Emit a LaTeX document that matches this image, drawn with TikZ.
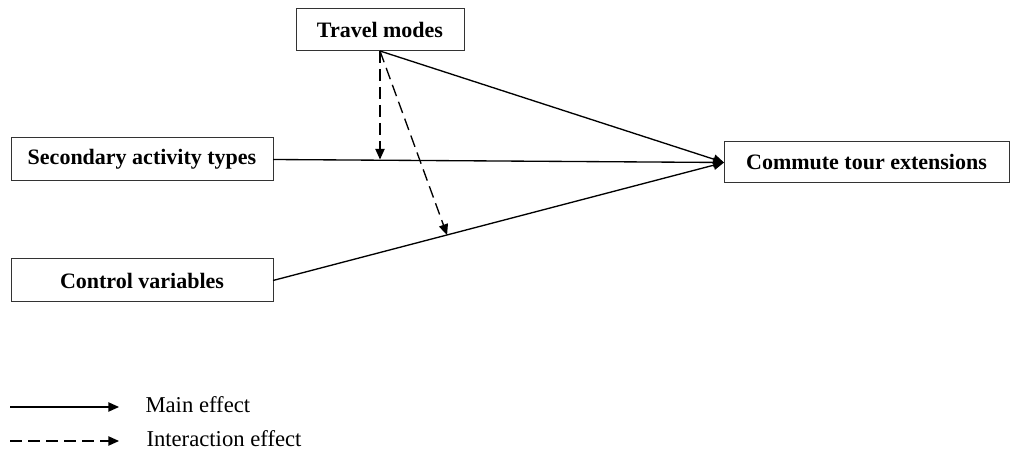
\documentclass[tikz,border=0pt]{standalone}
\usepackage{fontspec}
\setmainfont{Liberation Serif}
\usetikzlibrary{arrows.meta}

\tikzset{every picture/.style={line width=0.75pt}}

\begin{document}
\begin{tikzpicture}[x=0.75pt,y=0.75pt,yscale=-1,xscale=1,
    varbox/.style={draw=black!80, rectangle, inner sep=2pt, outer sep=0pt, font=\fontsize{16.5}{18}\selectfont\bfseries},
    legendtxt/.style={anchor=west, inner sep=0pt, font=\fontsize{17}{19}\selectfont},
    main/.style={line width=1pt, -{Triangle[length=8pt,width=7pt]}},
    inter/.style={main, dash pattern=on 9pt off 4.5pt}]
				%uncomment if require: \path (0,452); %set diagram left start at 0, and has height of 452
				\path[use as bounding box] (0,0) rectangle (1011,452);
				%Shape: Rectangle [Travel modes]
				\node[varbox, minimum width=126pt, minimum height=31.5pt] (tm) at (380,30) {Travel modes};
				%Shape: Rectangle [Secondary activity types]
				\node[varbox, minimum width=196.5pt, minimum height=32.25pt] (sat) at (142,159.5) {Secondary activity types};
				%Shape: Rectangle [Control variables]
				\node[varbox, minimum width=196.5pt, minimum height=32.25pt] (cv) at (142,280.5) {Control variables};
				%Shape: Rectangle [Commute tour extensions]
				\node[varbox, minimum width=213.75pt, minimum height=30.75pt] (cte) at (866.5,162.5) {Commute tour extensions};
				%Straight Lines
				\draw[main] (tm.south) -- (cte.west);
				%Straight Lines
				\draw[main] (sat.east) -- (cte.west);
				%Straight Lines
				\draw[main] (cv.east) -- coordinate[pos=0.386] (cvhit) (cte.west);
				%Dashed Lines
				\draw[inter] (tm.south) -- (tm.south |- sat.east);
				%Dashed Lines
				\draw[inter] (tm.south) -- (cvhit);
				%Legend
				\coordinate (mainA) at (10,407);
				\coordinate (mainB) at (119,407);
				\coordinate (interA) at (10,441);
				\coordinate (interB) at (119,441);
				\draw[main] (mainA) -- (mainB);
				\draw[inter] (interA) -- (interB);
				\node[legendtxt] (mainlbl) at (145,405) {Main effect};
				\node[legendtxt] (interlbl) at (146,439) {Interaction effect};
			\end{tikzpicture}
\end{document}
